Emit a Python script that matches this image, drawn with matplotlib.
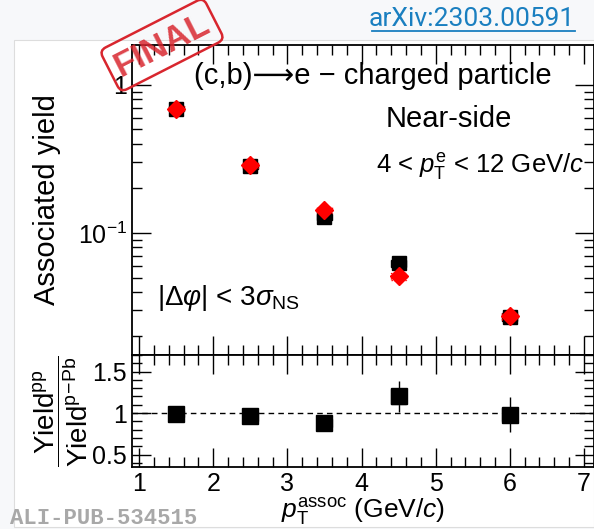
# Near-side associated yield, pp vs p-Pb, plus ratio panel

import matplotlib
matplotlib.use('Agg')
import matplotlib.pyplot as plt
from matplotlib.lines import Line2D
from matplotlib.patches import Rectangle
import numpy as np

plt.rcParams['font.family'] = ['Liberation Sans', 'DejaVu Sans']
plt.rcParams['mathtext.fontset'] = 'custom'
plt.rcParams['mathtext.rm'] = 'Liberation Sans'
plt.rcParams['mathtext.it'] = 'Liberation Sans:italic'
plt.rcParams['mathtext.sf'] = 'Liberation Sans'

# data
pt = np.array([1.5, 2.5, 3.5, 4.5, 6.0])
yield_pp = np.array([0.69, 0.283, 0.128, 0.0625, 0.027])
yield_ppb = np.array([0.69, 0.288, 0.143, 0.051, 0.0275])
sys_pp = np.array([0.04, 0.04, 0.045, 0.05, 0.06])    # relative
sys_ppb = np.array([0.04, 0.04, 0.045, 0.05, 0.06])
ratio = np.array([0.99, 0.96, 0.88, 1.20, 0.98])
ratio_stat = np.array([0.03, 0.05, 0.08, 0.19, 0.21])
ratio_sys = np.array([0.04, 0.05, 0.05, 0.09, 0.08])
box_w = 0.2

fig = plt.figure(figsize=(5.94, 5.29), dpi=100)
fig.patch.set_facecolor('#f7f8fa')
# white canvas
fig.add_artist(Rectangle((14/594, 2/529), 580/594, 487/529, transform=fig.transFigure,
                         facecolor='white', edgecolor='#dddddd', lw=0.8, zorder=-5))

ax1 = fig.add_axes([132/594, 1-355/529, 462/594, 310/529])
ax2 = fig.add_axes([132/594, 1-467/529, 462/594, 112/529], sharex=ax1)

for ax in (ax1, ax2):
    ax.set_xlim(0.905, 7.135)
    ax.tick_params(which='both', direction='in', top=True, right=True, width=1.0,
                   labelsize=18)
    ax.tick_params(which='major', length=14)
    ax.tick_params(which='minor', length=7)
    for s in ax.spines.values():
        s.set_linewidth(1.3)
    ax.set_xticks(np.arange(1, 8))
    ax.set_xticks(np.arange(1, 7.2, 0.2), minor=True)

# upper panel
ax1.set_yscale('log')
ax1.set_ylim(0.015, 1.86)
ax1.set_yticks([0.1, 1])
ax1.set_yticklabels([r'$10^{-1}$', '1'])
ax1.tick_params(labelbottom=False)
ax1.set_ylabel('Associated yield', fontsize=21, labelpad=12)

ax1.bar(pt, yield_pp * 2 * sys_pp, bottom=yield_pp * (1 - sys_pp), width=box_w,
        fill=False, edgecolor='black', lw=1.0, zorder=3)
ax1.bar(pt, yield_ppb * 2 * sys_ppb, bottom=yield_ppb * (1 - sys_ppb), width=box_w,
        fill=False, edgecolor='red', lw=1.0, ls=(0, (1, 1)), zorder=4)
ax1.plot(pt, yield_pp, 's', color='black', ms=9.5, zorder=5)
ax1.plot(pt, yield_ppb, 'D', color='red', ms=9.5, zorder=6)

ax1.text(0.135, 0.875, '(c,b)\u27f6e \u2212 charged particle', transform=ax1.transAxes,
         fontsize=21)
ax1.text(0.55, 0.735, 'Near-side', transform=ax1.transAxes, fontsize=21)
fig.text(584/594, 1-166/529, r'4 < $p_{\rm T}^{\rm e}$ < 12 GeV/$c$', fontsize=18.5,
         ha='right', va='center')
ax1.text(0.055, 0.16, r'$|\Delta\varphi|$ < 3$\sigma_{\rm NS}$', transform=ax1.transAxes,
         fontsize=20)

# ratio panel
ax2.set_ylim(0.35, 1.70)
ax2.set_yticks([0.5, 1, 1.5])
ax2.set_yticklabels(['0.5', '1', '1.5'])
ax2.set_yticks(np.arange(0.4, 1.71, 0.1), minor=True)
ax2.axhline(1, color='black', ls=(0, (4, 3)), lw=1.0, zorder=1)
ax2.errorbar(pt, ratio, yerr=ratio_stat, fmt='none', ecolor='black', lw=1.0, zorder=3)
ax2.bar(pt, 2 * ratio_sys, bottom=ratio - ratio_sys, width=box_w, fill=False,
        edgecolor='#555555', lw=1.0, zorder=4)
ax2.plot(pt, ratio, 's', color='black', ms=11, zorder=5)
ax2.set_xlabel(r'$p_{\rm T}^{\rm assoc}$ (GeV/$c$)', fontsize=19, labelpad=0)
ax2.set_ylabel(r'$\dfrac{\mathrm{Yield}^{\mathrm{pp}}}{\mathrm{Yield}^{\mathrm{p\!-\!Pb}}}$',
               fontsize=20, labelpad=2)

# decorations
fig.text(575/594, 1-19/529, 'arXiv:2303.00591', color='#1a7fc0', fontsize=19,
         family='Roboto', ha='right', va='center')
fig.add_artist(Line2D([372/594, 575/594], [1-31/529, 1-31/529], color='#1a7fc0',
                      lw=1.3, transform=fig.transFigure))
fig.text(10/594, 1-519/529, 'ALI-PUB-534515', color='#a8a8a8', fontsize=16,
         family='Liberation Mono', weight='bold', ha='left', va='center')
fig.text(162/594, 1-45/529, 'FINAL', color='#d8262e', fontsize=25, weight='bold',
         rotation=27, ha='center', va='center', alpha=0.85,
         bbox=dict(boxstyle='round,pad=0.2', fc='none', ec='#d8262e', lw=1.8))

fig.savefig('out.png', dpi=100, facecolor=fig.get_facecolor())
